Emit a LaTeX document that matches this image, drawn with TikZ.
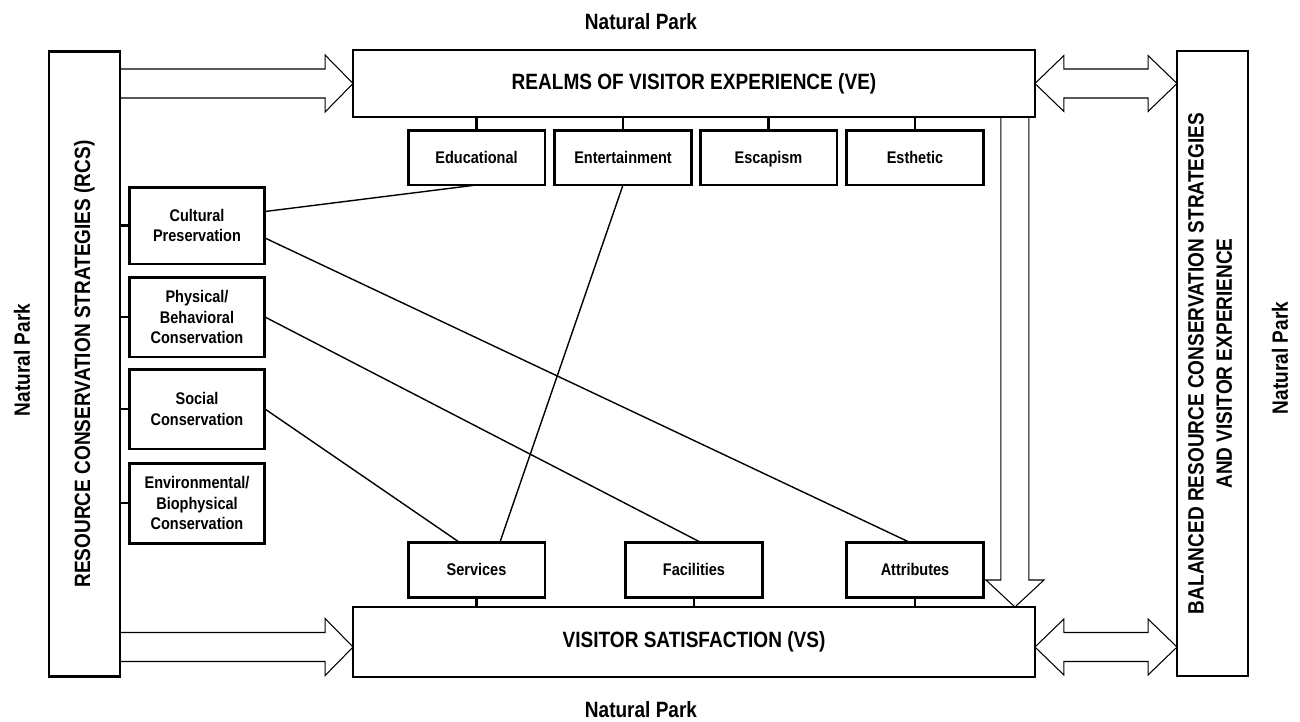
\documentclass[tikz,border=0pt]{standalone}
\usepackage{fontspec}
\setmainfont{Liberation Sans}[FakeStretch=0.86]
\usepackage{tikz}
\usetikzlibrary{calc}
\tikzset{big labels/.style={font=\bfseries\fontsize{12.6}{15}\selectfont}}
\tikzset{box labels/.style={font=\bfseries\fontsize{9.6}{11.6}\selectfont}}
\tikzset{every main node/.style={draw,line width=1.3pt,inner sep=0pt,outer sep=0pt,big labels}}
\tikzset{every side node/.style={draw,line width=1.3pt,minimum width=1.42cm,minimum height=12.5cm,inner sep=0pt,outer sep=0pt,big labels}}
\tikzset{every realm node/.style={draw,line width=1.7pt,minimum width=2.74cm,minimum height=1.1cm,inner sep=1mm,outer sep=0pt,text height=1.6ex,text depth=0.4ex,box labels}}
\tikzset{every rcs node/.style={draw,line width=1.7pt,minimum width=2.72cm,minimum height=1.6cm,inner sep=1mm,outer sep=0pt,align=center,box labels}}
\tikzset{fat arrow/.style={draw,line width=0.6pt,line join=miter}}
\tikzset{stub/.style={line width=1.4pt}}
\tikzset{link/.style={line width=0.8pt}}
\newcommand{\fatright}[2]{%
  \draw[fat arrow] ($(#1)+(0,-14.5)$) -- ($(#2)+(-28,-14.5)$) -- ($(#2)+(-28,-28.5)$) -- (#2)
    -- ($(#2)+(-28,28.5)$) -- ($(#2)+(-28,14.5)$) -- ($(#1)+(0,14.5)$);}
\newcommand{\fatboth}[2]{%
  \draw[fat arrow] (#1) -- ($(#1)+(29,-28)$) -- ($(#1)+(29,-14.5)$) -- ($(#2)+(-29,-14.5)$)
    -- ($(#2)+(-29,-28)$) -- (#2) -- ($(#2)+(-29,28)$) -- ($(#2)+(-29,14.5)$)
    -- ($(#1)+(29,14.5)$) -- ($(#1)+(29,28)$) -- cycle;}
\newcommand{\fatdown}[2]{%
  \draw[fat arrow] ($(#1)+(-14,0)$) -- ($(#2)+(-14,-27)$) -- ($(#2)+(-29,-27)$) -- (#2)
    -- ($(#2)+(29,-27)$) -- ($(#2)+(14,-27)$) -- ($(#1)+(14,0)$);}

\begin{document}
\begin{tikzpicture}[x=0.02cm, y=-0.02cm]
    \useasboundingbox (0,0) rectangle (1300,721);
    %\draw[help lines, step=50] (0,0) grid (1300,721);

    \node[every main node, minimum width=13.64cm, minimum height=1.34cm] at (694,83.5) (ve) {REALMS OF VISITOR EXPERIENCE (VE)};
    \node[every main node, minimum width=13.64cm, minimum height=1.40cm] at (694,642) (vs) {VISITOR SATISFACTION (VS)};
    \node[every side node] at (84.5,364) (rcs) {\rotatebox{90}{RESOURCE CONSERVATION STRATEGIES (RCS)}};
    \node[every side node] at (1212.5,363.5) (bcs) {\rotatebox{90}{\begin{tabular}{@{}c@{}}BALANCED RESOURCE CONSERVATION STRATEGIES\\[1pt] AND VISITOR EXPERIENCE\end{tabular}}};

    \node[big labels] at (641,22) (npt) {Natural Park};
    \node[big labels] at (641,710) (npb) {Natural Park};
    \node[big labels, rotate=90] at (22,360) (npl) {Natural Park};
    \node[big labels, rotate=90] at (1280,358) (npr) {Natural Park};

    \node[every realm node] at (476.5,157.5) (edu) {Educational};
    \node[every realm node] at (623,157.5) (ent) {Entertainment};
    \node[every realm node] at (768.5,157.5) (esc) {Escapism};
    \node[every realm node] at (915,157.5) (est) {Esthetic};

    \node[every realm node] at (476.5,569.5) (ser) {Services};
    \node[every realm node] at (694,569.5) (fac) {Facilities};
    \node[every realm node] at (915,569.5) (att) {Attributes};

    \node[every rcs node, minimum height=1.54cm] at (197,225.5) (cul) {Cultural\\Preservation};
    \node[every rcs node] at (197,317) (phy) {Physical/\\Behavioral\\Conservation};
    \node[every rcs node] at (197,409) (soc) {Social\\Conservation};
    \node[every rcs node] at (197,503) (env) {Environmental/\\Biophysical\\Conservation};

    \foreach \b in {cul,phy,soc,env} \draw[stub] (\b.west) -- (\b.west -| rcs.east);
    \foreach \b in {edu,ent,esc,est} \draw[stub] (\b.north) -- (\b.north |- ve.south);
    \foreach \b in {ser,fac,att} \draw[stub] (\b.south) -- (\b.south |- vs.north);

    \path[link] ([yshift=0.28cm]cul.east) edge (edu.south);
    \path[link] ([yshift=-0.25cm]cul.east) edge ([xshift=-0.12cm]att.north);
    \path[link] (phy.east) edge ([xshift=0.12cm]fac.north);
    \path[link] (soc.east) edge ([xshift=-0.35cm]ser.north);
    \path[link] (ent.south) edge ([xshift=0.47cm]ser.north);

    \coordinate (vein) at (rcs.east |- ve.west);
    \coordinate (vsin) at ([yshift=-0.1cm]rcs.east |- vs.west);
    \coordinate (vsmid) at ([yshift=-0.1cm]vs.west);
    \coordinate (vsout) at ([yshift=-0.1cm]vs.east);
    \coordinate (vetap) at ([xshift=-0.4cm]ve.south east);

    \fatright{vein}{ve.west}
    \fatright{vsin}{vsmid}
    \fatboth{ve.east}{bcs.west |- ve.east}
    \fatboth{vsout}{bcs.west |- vsout}
    \fatdown{vetap}{vetap |- vs.north}
\end{tikzpicture}
\end{document}
